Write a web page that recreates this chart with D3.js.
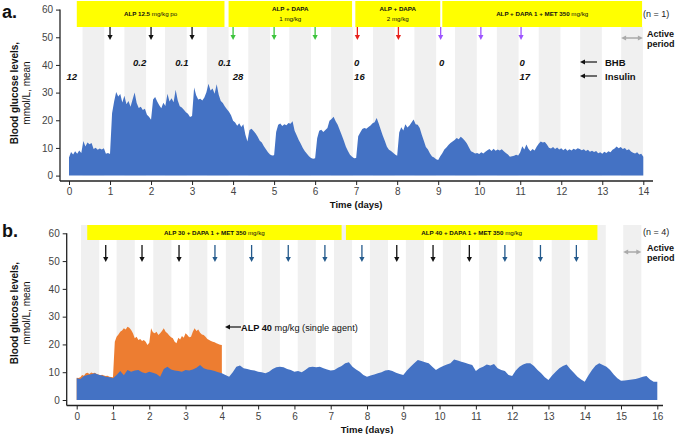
<!DOCTYPE html>
<html><head><meta charset="utf-8">
<script src="https://cdn.jsdelivr.net/npm/d3@7"></script>
<style>
body{margin:0;background:#fff}
svg{display:block;font-family:"Liberation Sans",Arial,Helvetica,sans-serif}
text{white-space:pre}
</style>
</head><body>
<script>
// ---------------- DATA ----------------
// Panel a: mean blood glucose (mmol/L), sampled every 0.05 day, day 0 -> 14
const stepA = 0.05;
const glucoseA = [6.5,
 8.5,7.6,8.8,7.9,9.1,8.2,12.5,10.5,12.0,11.3,11.8,9.6,10.1,9.3,9.8,9.4,9.9,7.9,8.2,7.8,
 22.5,26.8,30.2,28.6,29.5,26.4,28.9,25.8,27.0,24.9,27.5,30.0,26.2,24.4,24.9,23.7,24.2,22.0,21.3,20.2,
 27.5,28.4,26.8,25.4,24.3,26.3,25.2,29.6,26.8,28.0,26.5,31.0,27.2,25.1,24.6,23.8,22.9,22.4,21.2,21.5,
 31.8,29.0,27.5,27.8,27.1,28.2,30.1,33.2,30.8,31.5,29.6,33.0,29.2,27.0,26.2,25.0,24.0,23.1,21.8,19.8,
 19.2,18.0,18.9,17.6,18.6,14.8,12.3,16.5,16.9,16.1,15.2,14.0,12.6,12.0,10.6,9.5,8.4,7.6,7.3,7.4,
 15.8,18.4,18.8,17.9,18.6,18.2,19.0,18.7,19.6,16.2,14.6,12.9,11.5,10.0,8.8,7.9,7.0,6.4,6.1,6.3,
 13.5,16.2,16.6,15.8,16.5,17.2,19.8,20.5,21.3,19.6,18.4,16.5,14.6,12.6,10.4,8.9,7.5,6.8,6.3,6.4,
 14.2,15.6,16.8,17.2,16.9,17.6,18.1,18.9,19.3,20.8,18.8,16.6,14.4,12.5,10.4,9.3,8.9,8.3,7.6,7.2,
 15.6,17.5,16.3,18.6,17.4,18.1,19.2,20.3,18.6,18.4,17.2,14.8,12.6,10.3,9.4,8.0,6.9,6.5,5.9,5.6,
 7.0,8.1,9.4,10.2,11.1,11.8,12.3,12.9,13.6,13.1,14.0,13.4,12.6,11.6,10.2,8.8,8.4,8.0,8.2,7.8,
 8.4,8.0,8.6,9.2,9.6,8.9,9.7,9.0,9.4,9.1,9.5,8.8,8.2,7.6,6.8,7.0,7.2,7.5,7.3,8.4,
 10.6,9.4,11.2,9.7,8.8,9.6,9.1,10.4,11.5,12.3,12.0,12.1,11.2,10.1,9.8,10.3,9.6,10.2,9.4,9.9,
 9.2,9.8,9.0,9.5,9.1,9.7,9.3,9.9,9.6,9.2,9.5,8.9,9.3,8.6,9.0,8.5,8.9,8.1,8.4,7.9,
 8.6,8.2,8.8,8.4,9.3,9.8,10.5,9.9,10.3,9.6,10.0,9.2,9.5,8.7,8.3,8.0,8.4,7.6,7.9,6.8];

// Panel b: combination (n = 4), sampled every 0.1 day, day 0 -> 16
const stepB = 0.1;
const glucoseB = [7.8,
 7.6,8.6,9.0,9.3,9.6,9.1,8.8,8.4,8.2,7.8,
 9.0,10.4,8.9,10.8,10.2,10.6,10.8,10.0,9.6,10.2,
 9.8,9.4,8.4,11.2,12.0,11.0,10.6,10.4,10.2,10.8,
 10.6,11.0,11.6,12.6,11.4,11.0,10.8,10.4,10.0,9.6,
 9.0,8.4,10.0,12.0,12.4,11.4,11.2,10.8,10.6,10.2,
 10.0,9.6,10.2,11.2,11.8,12.0,11.8,11.2,10.8,10.2,
 10.4,10.0,10.8,11.8,12.0,11.8,12.0,11.4,11.0,10.6,
 10.8,11.6,12.2,13.2,13.6,12.0,11.0,10.2,9.0,8.4,
 8.8,9.2,9.6,10.0,10.6,10.8,10.4,9.8,9.4,9.0,
 10.6,12.0,13.2,14.4,14.0,13.6,13.2,12.0,10.8,11.6,
 12.2,12.8,13.2,14.6,14.2,13.8,13.4,13.0,12.6,10.4,
 11.4,12.0,12.8,12.4,13.0,11.4,10.8,10.4,9.0,8.6,
 10.6,12.0,12.8,13.2,13.2,12.2,10.8,9.6,8.2,7.2,
 8.8,10.2,11.4,12.2,12.8,11.2,9.8,8.4,7.4,6.6,
 8.8,10.8,12.4,13.2,12.6,12.0,10.8,9.2,7.8,6.9,
 7.0,7.2,7.4,7.6,7.9,8.4,8.6,7.4,6.6,6.6];

// Panel b: ALP 40 mg/kg single agent, every 0.05 day, day 0 -> 4
const stepSingle = 0.05;
const glucoseSingle = [8.0,
 7.9,8.2,9.0,8.7,9.6,9.8,9.4,9.9,9.6,9.8,9.4,9.2,8.9,9.1,8.8,8.6,8.7,8.4,8.3,8.2,
 21.0,22.8,23.6,24.6,25.0,25.8,25.4,26.4,26.0,25.2,24.0,22.2,22.8,21.6,22.0,21.2,21.6,21.0,19.8,20.6,
 25.8,24.4,24.0,24.6,23.4,24.0,24.8,25.8,24.6,24.0,23.2,22.6,22.2,21.0,20.4,22.4,21.8,23.0,22.4,24.0,
 23.4,22.6,22.8,24.6,25.8,24.8,25.4,24.2,23.6,23.4,22.8,22.0,21.6,21.2,21.0,20.8,20.4,20.2,19.9,19.8];

const yTickValues = [0,10,20,30,40,50,60];
const dayTicksA = d3.range(0, 15);
const dayTicksB = d3.range(0, 17);

// active (dark) periods, start day; duration in days
const activeStartA = [0.33,1.35,2.34,3.36,4.37,5.37,6.39,7.41,8.42,9.41,10.43,11.45,12.46,13.46];
const activeLenA = 0.53;
const activeStartB = [0.12,1.10,2.11,3.10,4.11,5.10,6.09,7.09,8.08,9.07,10.09,11.09,12.08,13.09,14.08,15.06];
const activeLenB = 0.5;

// treatment periods
const treatStartA = [0.19, 3.89, 6.98, 9.10];
const treatEndA   = [3.79, 6.90, 9.05, 13.97];
const treatLabelA = [
  [[["ALP 12.5 ",1],["mg/kg po",0]]],
  [[["ALP + DAPA",1]],[["1 mg/kg",0]]],
  [[["ALP + DAPA",1]],[["2 mg/kg",0]]],
  [[["ALP + DAPA 1 + MET 350 ",1],["mg/kg",0]]]
];
const treatStartB = [0.29, 7.42];
const treatEndB   = [7.30, 14.35];
const treatLabelB = [
  [[["ALP 30 + DAPA 1 + MET 350 ",1],["mg/kg",0]]],
  [[["ALP 40 + DAPA 1 + MET 350 ",1],["mg/kg",0]]]
];

// dosing days and regimen
const doseDayA = [1,2,3,4,5,6,7.03,8.03,9.06,10.04,11.02];
const doseRegA = ["alp","alp","alp","dapa1","dapa1","dapa1","dapa2","dapa2","met","met","met"];
const doseDayB = [0.8,1.8,2.82,3.81,4.82,5.83,6.84,7.86,8.82,9.82,10.82,11.8,12.78,13.77];
const doseRegB = ["k","k","k","b","b","b","b","b","k","k","k","b","b","b"];

// BHB and insulin annotations (panel a)
const bhbDay = [1.56, 2.59, 3.63, 6.95, 9.02, 10.98];
const bhbVal = ["0.2","0.1","0.1","0","0","0"];
const insDay = [-0.06, 3.99, 6.95, 10.98];
const insVal = ["12","28","16","17"];

// ---------------- STYLES ----------------
const C = {
  blue:"#4472c4", orange:"#ed7d31", yellow:"#ffff00", band:"#f0f0f0",
  axis:"#222", tick:"#444", grayArrow:"#aaaaaa",
  alp:"#111", dapa1:"#3cc43c", dapa2:"#e8201c", met:"#9d55ff", k:"#111", b:"#245a8c"
};

const W = 676, H = 434;
const svg = d3.select("body").append("svg").attr("width", W).attr("height", H);

function rich(g, x, y, parts, size, anchor="middle"){
  const t = g.append("text").attr("x", x).attr("y", y).attr("text-anchor", anchor)
    .attr("font-size", size).attr("fill", "#111");
  parts.forEach(([s,b]) => t.append("tspan").attr("font-weight", b ? "bold" : "normal").text(s));
  return t;
}
function downArrow(g, x, y1, y2, color){
  g.append("line").attr("x1",x).attr("x2",x).attr("y1",y1).attr("y2",y2-4)
    .attr("stroke",color).attr("stroke-width",1.3);
  g.append("path").attr("d",`M${x-2.6},${y2-5}L${x+2.6},${y2-5}L${x},${y2}Z`).attr("fill",color);
}
function leftArrow(g, x1, x2, y, color, w=1.2){
  g.append("line").attr("x1",x1+4).attr("x2",x2).attr("y1",y).attr("y2",y).attr("stroke",color).attr("stroke-width",w);
  g.append("path").attr("d",`M${x1},${y}L${x1+5},${y-2.5}L${x1+5},${y+2.5}Z`).attr("fill",color);
}
function dblArrow(g, x1, x2, y, color){
  g.append("line").attr("x1",x1+4).attr("x2",x2-4).attr("y1",y).attr("y2",y).attr("stroke",color).attr("stroke-width",1.5);
  g.append("path").attr("d",`M${x1},${y}L${x1+5},${y-2.6}L${x1+5},${y+2.6}Z`).attr("fill",color);
  g.append("path").attr("d",`M${x2},${y}L${x2-5},${y-2.6}L${x2-5},${y+2.6}Z`).attr("fill",color);
}

function panel(cfg){
  const g = svg.append("g");
  const x = d3.scaleLinear().domain([0, cfg.days]).range(cfg.xr);
  const y = d3.scaleLinear().domain([0, 60]).range(cfg.yr);

  // active period bands
  g.selectAll("rect.band").data(cfg.bands).join("rect").attr("class","band")
    .attr("x", d => x(d)).attr("width", x(cfg.bandLen) - x(0))
    .attr("y", cfg.bandTop).attr("height", y(0) - cfg.bandTop).attr("fill", C.band);

  // treatment boxes
  cfg.tStart.forEach((s,i) => {
    const x0 = x(s), x1 = x(cfg.tEnd[i]);
    g.append("rect").attr("x", x0).attr("y", cfg.boxY[0]).attr("width", x1-x0)
      .attr("height", cfg.boxY[1]-cfg.boxY[0]).attr("fill", C.yellow);
    const lines = cfg.tLabel[i];
    const mid = (cfg.boxY[0]+cfg.boxY[1])/2;
    lines.forEach((ln, j) => {
      const yy = lines.length === 1 ? mid + 2.2 : mid - 2.6 + j*9.6;
      rich(g, (x0+x1)/2, yy, ln, 6.2);
    });
  });

  // areas
  cfg.series.forEach(s => {
    const area = d3.area().x((d,i) => x(i*s.step)).y0(y(0)).y1(d => y(d));
    g.append("path").datum(s.values).attr("d", area).attr("fill", s.color);
  });

  // dose arrows
  cfg.doseDay.forEach((d,i) => downArrow(g, x(d), cfg.arrowY[0], cfg.arrowY[1], C[cfg.doseReg[i]]));

  // y axis
  const ya = d3.axisLeft(y).tickValues(yTickValues).tickSize(4).tickPadding(3);
  const gy = g.append("g").attr("transform", `translate(${cfg.axisX},0)`).call(ya);
  gy.select(".domain").remove();
  gy.selectAll(".tick line").attr("stroke", C.axis);
  gy.selectAll(".tick text").attr("font-size", 10).attr("fill", C.tick).attr("font-family", "Liberation Sans, Arial, sans-serif");
  g.append("line").attr("x1", cfg.axisX).attr("x2", cfg.axisX).attr("y1", y(60)).attr("y2", cfg.axisY)
    .attr("stroke", C.axis).attr("stroke-width", 1.3);

  // x axis
  const xa = d3.axisBottom(x).tickValues(cfg.ticks).tickSize(4).tickPadding(3);
  const gx = g.append("g").attr("transform", `translate(0,${cfg.axisY})`).call(xa);
  gx.select(".domain").remove();
  gx.selectAll(".tick line").attr("stroke", C.axis);
  gx.selectAll(".tick text").attr("font-size", 10).attr("fill", C.tick).attr("font-family", "Liberation Sans, Arial, sans-serif");
  g.append("line").attr("x1", cfg.axisX).attr("x2", cfg.axisEnd).attr("y1", cfg.axisY).attr("y2", cfg.axisY)
    .attr("stroke", C.axis).attr("stroke-width", 1.3);

  g.append("text").attr("x", (x(0)+x(cfg.days))/2).attr("y", cfg.axisY + 27).attr("text-anchor","middle")
    .attr("font-size", 9.5).attr("font-weight","bold").attr("fill","#111").text("Time (days)");

  // y title
  const yt = g.append("g").attr("transform", `translate(0,${cfg.titleY}) rotate(-90)`);
  yt.append("text").attr("x",0).attr("y",18).attr("text-anchor","middle").attr("font-size",10)
    .attr("font-weight","bold").attr("fill","#111").text("Blood glucose levels,");
  yt.append("text").attr("x",0).attr("y",30).attr("text-anchor","middle").attr("font-size",10)
    .attr("fill","#111").text("mmol/L, mean");

  // panel letter
  g.append("text").attr("x", 2).attr("y", cfg.letterY).attr("font-size", 18).attr("font-weight","bold")
    .attr("fill","#111").text(cfg.letter);

  // n and active period legend
  g.append("text").attr("x", 643).attr("y", cfg.nY).attr("font-size", 9).attr("fill","#222").text(cfg.nText);
  dblArrow(g, x(cfg.bands[cfg.bands.length-1]), x(cfg.bands[cfg.bands.length-1] + cfg.bandLen), cfg.activeY, C.grayArrow);
  g.append("text").attr("x", 647).attr("y", cfg.activeY - 1.5).attr("font-size", 9).attr("font-weight","bold").attr("fill","#111").text("Active");
  g.append("text").attr("x", 647).attr("y", cfg.activeY + 8.5).attr("font-size", 9).attr("font-weight","bold").attr("fill","#111").text("period");

  return {g, x, y};
}

const A = panel({
  days:14, xr:[69,643.3], yr:[175.6,9.6], bands:activeStartA, bandLen:activeLenA, bandTop:27,
  tStart:treatStartA, tEnd:treatEndA, tLabel:treatLabelA, boxY:[1,27],
  series:[{values:glucoseA, step:stepA, color:C.blue}],
  doseDay:doseDayA, doseReg:doseRegA, arrowY:[27,40],
  axisX:60, axisY:181, axisEnd:653, ticks:dayTicksA, titleY:93, letter:"a.", letterY:18,
  nText:"(n = 1)", nY:17, activeY:38
});

// BHB / insulin
bhbDay.forEach((d,i) => A.g.append("text").attr("x", A.x(d)).attr("y", 65.5).attr("font-size", 9.5)
  .attr("font-weight","bold").attr("font-style","italic").attr("fill","#111").text(bhbVal[i]));
insDay.forEach((d,i) => A.g.append("text").attr("x", A.x(d)).attr("y", 79.5).attr("font-size", 9.5)
  .attr("font-weight","bold").attr("font-style","italic").attr("fill","#111").text(insVal[i]));
leftArrow(A.g, 580, 597, 62, "#111");
leftArrow(A.g, 580, 597, 76, "#111");
A.g.append("text").attr("x",605).attr("y",65.5).attr("font-size",9.5).attr("font-weight","bold").attr("fill","#111").text("BHB");
A.g.append("text").attr("x",605).attr("y",79.5).attr("font-size",9.5).attr("font-weight","bold").attr("fill","#111").text("Insulin");

const B = panel({
  days:16, xr:[76.7,657.3], yr:[400,233.3], bands:activeStartB, bandLen:activeLenB, bandTop:225,
  tStart:treatStartB, tEnd:treatEndB, tLabel:treatLabelB, boxY:[225,240],
  series:[{values:glucoseSingle, step:stepSingle, color:C.orange},{values:glucoseB, step:stepB, color:C.blue}],
  doseDay:doseDayB, doseReg:doseRegB, arrowY:[245,262],
  axisX:66.7, axisY:405.5, axisEnd:663, ticks:dayTicksB, titleY:313, letter:"b.", letterY:237,
  nText:"(n = 4)", nY:235, activeY:252
});

leftArrow(B.g, 225, 241, 327, "#111");
rich(B.g, 241, 330.5, [["ALP 40 ",1],["mg/kg (single agent)",0]], 9.2, "start");
</script>
</body></html>
